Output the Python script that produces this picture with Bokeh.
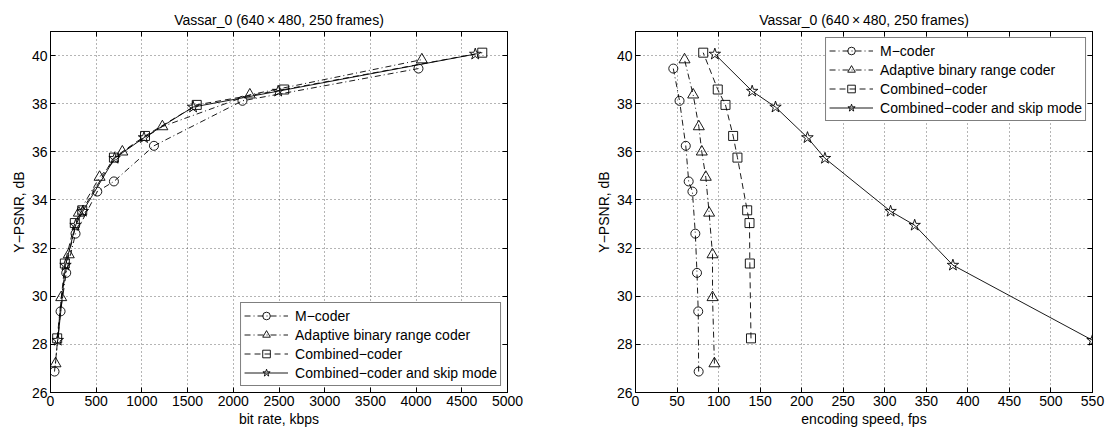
from bokeh.plotting import figure
from bokeh.models import LinearAxis, Legend, LegendItem, FixedTicker, Range1d
from bokeh.layouts import row
from bokeh.embed import file_html
from bokeh.resources import INLINE

# Y-PSNR (dB) per operating point, ascending
psnr_mcoder = [26.87, 29.37, 30.97, 32.60, 34.35, 34.77, 36.25, 38.12, 39.46]
psnr_abrc = [27.20, 29.95, 31.73, 33.46, 34.95, 36.00, 37.05, 38.37, 39.83]
psnr_comb = [28.25, 31.36, 33.04, 33.57, 35.76, 36.66, 37.95, 38.59, 40.12]
psnr_skip = [28.17, 31.29, 32.95, 33.53, 35.73, 36.59, 37.86, 38.52, 40.06]

# bit rate, kbps
rate_mcoder = [44, 110, 172, 274, 512, 694, 1132, 2100, 4026]
rate_abrc = [55, 117, 200, 310, 537, 786, 1224, 2181, 4063]
rate_comb = [73, 157, 266, 347, 694, 1034, 1600, 2557, 4724]
rate_skip = [80, 164, 274, 354, 701, 1023, 1560, 2491, 4647]

# encoding speed, fps
fps_mcoder = [76, 75.5, 74, 72, 68.5, 64, 60.5, 53, 45.5]
fps_abrc = [95, 92.7, 92.7, 88.6, 84.6, 79.8, 76.2, 69.4, 59]
fps_comb = [139, 137.6, 137.2, 134.4, 122.7, 117.5, 108.3, 99, 81.5]
fps_skip = [550, 382, 336, 307, 228, 207, 168.5, 140.4, 95.5]

series_names = ["M\u2212coder", "Adaptive binary range coder",
                "Combined\u2212coder", "Combined\u2212coder and skip mode"]
title_text = "Vassar_0 (640\u2009\u00d7\u2009480, 250 frames)"
y_ticks = [26, 28, 30, 32, 34, 36, 38, 40]
rate_ticks = list(range(0, 5001, 500))
fps_ticks = list(range(0, 551, 50))

FONT = "Liberation Sans"
styles = [
    dict(marker="circle", size=9, dash="6 3 1 3"),
    dict(marker="triangle", size=11, dash="6 3 1 3"),
    dict(marker="square", size=9, dash="6 4"),
    dict(marker="star", size=12, dash="solid"),
]


def make_panel(xs_list, ys_list, xmax, xticks, xlabel, left, right, legend_loc):
    p = figure(frame_width=457, frame_height=361,
               x_range=Range1d(0, xmax), y_range=Range1d(26, 41),
               output_backend="svg", toolbar_location=None,
               min_border_left=left, min_border_right=right,
               min_border_top=31, min_border_bottom=38)
    p.title.text = title_text
    p.title.align = "center"
    p.title.text_font = FONT
    p.title.text_font_size = "14px"
    p.title.text_font_style = "normal"
    p.title.text_color = "black"
    p.title.offset = 0
    p.title.standoff = 7
    p.outline_line_color = "black"
    p.outline_line_width = 1
    p.background_fill_color = "white"
    p.border_fill_color = "white"

    p.xaxis.ticker = FixedTicker(ticks=xticks)
    p.yaxis.ticker = FixedTicker(ticks=y_ticks)
    p.xaxis.axis_label = xlabel
    p.yaxis.axis_label = "Y\u2212PSNR, dB"
    for ax in (p.xaxis[0], p.yaxis[0]):
        ax.axis_label_text_font = FONT
        ax.axis_label_text_font_size = "14px"
        ax.axis_label_text_font_style = "normal"
        ax.axis_label_text_color = "black"
        ax.major_label_text_font = FONT
        ax.major_label_text_font_size = "14px"
        ax.major_label_text_color = "black"
        ax.major_tick_in = 5
        ax.major_tick_out = 0
        ax.major_tick_line_color = "black"
        ax.minor_tick_line_color = None
        ax.axis_line_color = "black"
        ax.major_label_standoff = 3
        ax.axis_label_standoff = 2

    # tick marks on the opposite sides, without labels
    top = LinearAxis(ticker=FixedTicker(ticks=xticks), major_tick_in=5, major_tick_out=0,
                     minor_tick_line_color=None, major_label_text_color=None,
                     major_label_text_font_size="1px", major_label_standoff=0)
    rgt = LinearAxis(ticker=FixedTicker(ticks=y_ticks), major_tick_in=5, major_tick_out=0,
                     minor_tick_line_color=None, major_label_text_color=None,
                     major_label_text_font_size="1px", major_label_standoff=0)
    p.add_layout(top, "above")
    p.add_layout(rgt, "right")

    for g in (p.xgrid[0], p.ygrid[0]):
        g.grid_line_color = "#444444"
        g.grid_line_dash = "1 3"
        g.grid_line_width = 0.8

    items = []
    for xs, ys, name, st in zip(xs_list, ys_list, series_names, styles):
        ln = p.line(xs, ys, line_color="black", line_width=0.9, line_dash=st["dash"])
        sc = p.scatter(xs, ys, marker=st["marker"], size=st["size"],
                       line_color="black", line_width=0.9, fill_color=None)
        items.append(LegendItem(label=name, renderers=[ln, sc]))

    leg = Legend(items=items, location=legend_loc)
    leg.label_text_font = FONT
    leg.label_text_font_size = "14px"
    leg.label_text_color = "black"
    leg.glyph_width = 44
    leg.glyph_height = 19
    leg.label_height = 19
    leg.label_standoff = 7
    leg.spacing = 0
    leg.padding = 3
    leg.margin = 6
    leg.border_line_color = "black"
    leg.border_line_width = 1
    leg.background_fill_alpha = 1
    p.add_layout(leg, "center")
    return p


left_panel = make_panel([rate_mcoder, rate_abrc, rate_comb, rate_skip],
                        [psnr_mcoder, psnr_abrc, psnr_comb, psnr_skip],
                        5000, rate_ticks, "bit rate, kbps", 50, 52, "bottom_right")
right_panel = make_panel([fps_mcoder, fps_abrc, fps_comb, fps_skip],
                         [psnr_mcoder, psnr_abrc, psnr_comb, psnr_skip],
                         550, fps_ticks, "encoding speed, fps", 76, 26, "top_right")

layout = row(left_panel, right_panel, spacing=0)
open("out.html", "w").write(file_html(layout, INLINE))
